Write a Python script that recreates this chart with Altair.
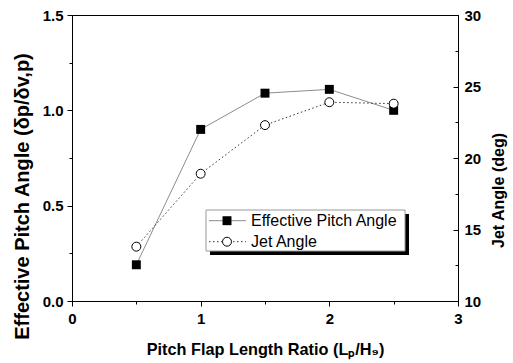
import altair as alt
import pandas as pd

# ---- data ----
ratio = [0.5, 1.0, 1.5, 2.0, 2.5]
pitch = [0.19, 0.90, 1.09, 1.11, 1.00]
jet = [13.8, 18.9, 22.3, 23.9, 23.8]
legend_labels = ["Effective Pitch Angle", "Jet Angle"]

x_ticks = [0, 0.5, 1, 1.5, 2, 2.5, 3]
left_ticks = [0, 0.25, 0.5, 0.75, 1.0, 1.25, 1.5]
right_ticks = [10, 12.5, 15, 17.5, 20, 22.5, 25, 27.5, 30]

df = pd.DataFrame({"ratio": ratio, "pitch": pitch, "jet": jet})

FONT = "Liberation Sans"
W, H = 386, 286

common_axis = dict(
    grid=False, labelFont=FONT, labelFontWeight="bold", labelFontSize=15,
    labelColor="black", titleFont=FONT, titleFontWeight="bold", titleColor="black",
    labelFlush=False, labelOverlap=False, domainColor="black", tickColor="black",
    domainWidth=1, tickWidth=1,
)

x_enc = alt.X(
    "ratio:Q",
    scale=alt.Scale(domain=[0, 3], nice=False, zero=False),
    axis=alt.Axis(
        values=x_ticks,
        title="Pitch Flap Length Ratio (Lₚ/H₉)",
        titleFontSize=16.3,
        titleY=53, titleBaseline="alphabetic",
        labelExpr="datum.value % 1 == 0 ? format(datum.value, 'd') : ''",
        tickSize={"condition": {"test": "datum.value % 1 != 0", "value": 3}, "value": 5},
        labelPadding=5, labelBaseline="top",
        **common_axis,
    ),
)

y_left = alt.Y(
    "pitch:Q",
    scale=alt.Scale(domain=[0, 1.5], nice=False, zero=False),
    axis=alt.Axis(
        orient="left",
        values=left_ticks,
        title="Effective Pitch Angle (δp/δv,p)",
        titleFontSize=20, titleAngle=270, titleX=-44, titleY=181,
        titleAlign="center", titleBaseline="alphabetic",
        labelExpr="datum.value % 0.5 == 0 ? format(datum.value, '.1f') : ''",
        tickSize={"condition": {"test": "datum.value % 0.5 != 0", "value": 3}, "value": 5},
        labelPadding=4,
        **common_axis,
    ),
)

y_right = alt.Y(
    "jet:Q",
    scale=alt.Scale(domain=[10, 30], nice=False, zero=False),
    axis=alt.Axis(
        orient="right",
        values=right_ticks,
        title="Jet Angle (deg)",
        titleFontSize=16, titleAngle=270, titleX=45, titleY=175,
        titleAlign="center", titleBaseline="alphabetic",
        labelExpr="datum.value % 5 == 0 ? format(datum.value, 'd') : ''",
        tickSize={"condition": {"test": "datum.value % 5 != 0", "value": -3}, "value": -5},
        labelPadding=11,
        **common_axis,
    ),
)

base = alt.Chart(df)

left = alt.layer(
    base.mark_line(color="#8c8c8c", strokeWidth=1).encode(x=x_enc, y=y_left),
    base.mark_point(shape="square", filled=True, color="black", size=80, opacity=1).encode(x=x_enc, y=y_left),
)

right = alt.layer(
    base.mark_line(color="#333333", strokeWidth=1, strokeDash=[1.5, 2.5]).encode(x=x_enc, y=y_right),
    base.mark_point(shape="circle", filled=True, fill="white", stroke="black", strokeWidth=1,
                    size=80, opacity=1).encode(x=x_enc, y=y_right),
)

blank = alt.Data(values=[{}])
row_y = [205.7, 226.7]

shadow = alt.Chart(blank).mark_rect(color="black").encode(
    x=alt.value(138), x2=alt.value(337), y=alt.value(199), y2=alt.value(240))
box = alt.Chart(blank).mark_rect(fill="white", stroke="#999999", strokeWidth=1).encode(
    x=alt.value(134), x2=alt.value(333), y=alt.value(195), y2=alt.value(236))
leg_line1 = alt.Chart(blank).mark_rule(color="#8c8c8c", strokeWidth=1).encode(
    x=alt.value(137), x2=alt.value(174), y=alt.value(row_y[0]))
leg_sym1 = alt.Chart(blank).mark_point(shape="square", filled=True, color="black", size=80, opacity=1).encode(
    x=alt.value(155), y=alt.value(row_y[0]))
leg_line2 = alt.Chart(blank).mark_rule(color="#333333", strokeWidth=1, strokeDash=[1.5, 2.5]).encode(
    x=alt.value(137), x2=alt.value(174), y=alt.value(row_y[1]))
leg_sym2 = alt.Chart(blank).mark_point(shape="circle", filled=True, fill="white", stroke="black",
                                       strokeWidth=1, size=80, opacity=1).encode(
    x=alt.value(155), y=alt.value(row_y[1]))
leg_txt1 = alt.Chart(blank).mark_text(text=legend_labels[0], font=FONT, fontSize=16, align="left",
                                      baseline="middle", color="black").encode(
    x=alt.value(179), y=alt.value(row_y[0]))
leg_txt2 = alt.Chart(blank).mark_text(text=legend_labels[1], font=FONT, fontSize=16, align="left",
                                      baseline="middle", color="black").encode(
    x=alt.value(179), y=alt.value(row_y[1]))

chart = alt.layer(
    left, right, shadow, box, leg_line1, leg_sym1, leg_line2, leg_sym2, leg_txt1, leg_txt2
).resolve_scale(y="independent").properties(
    width=W, height=H,
    padding={"left": 72, "top": 15, "right": 55, "bottom": 62},
    autosize=alt.AutoSizeParams(type="none"),
    background="white",
).configure_view(stroke="black", strokeWidth=1)

chart.save("out.html", embed_options={"renderer": "svg", "actions": False})
